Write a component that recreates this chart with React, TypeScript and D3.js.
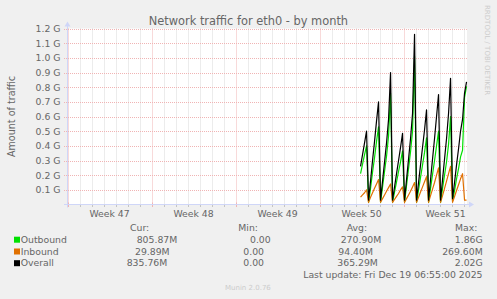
import React from "react";
import * as d3 from "d3";

// ---------- data ----------
const TITLE = "Network traffic for eth0 - by month";
const Y_AXIS_TITLE = "Amount of traffic";
const Y_TICKS = [0.1e9, 0.2e9, 0.3e9, 0.4e9, 0.5e9, 0.6e9, 0.7e9, 0.8e9, 0.9e9, 1.0e9, 1.1e9, 1.2e9];
const Y_TICK_LABELS = ["0.1 G", "0.2 G", "0.3 G", "0.4 G", "0.5 G", "0.6 G", "0.7 G", "0.8 G", "0.9 G", "1.0 G", "1.1 G", "1.2 G"];
const WEEK_LABELS = ["Week 47", "Week 48", "Week 49", "Week 50", "Week 51"];
const WEEK_STARTS = [
  new Date(2025, 10, 16), new Date(2025, 10, 23), new Date(2025, 10, 30),
  new Date(2025, 11, 7), new Date(2025, 11, 14),
];
const END_TIME = new Date(2025, 11, 19, 6, 55);
const DATA_START = new Date(2025, 11, 10, 10, 0); // 4-hour samples

// values in G (1e9)
const OUTBOUND = [
  0.21, 0.275, 0.34, 0.40,
  0.015, 0.11, 0.22, 0.32, 0.43, 0.53,
  0.015, 0.12, 0.225, 0.33, 0.465, 0.76,
  0.015, 0.085, 0.155, 0.225, 0.29, 0.365,
  0.015, 0.13, 0.245, 0.36, 0.50, 1.01,
  0.015, 0.10, 0.185, 0.27, 0.355, 0.455,
  0.015, 0.11, 0.205, 0.30, 0.40, 0.50,
  0.015, 0.11, 0.20, 0.29, 0.41, 0.60,
  0.025, 0.095, 0.175, 0.245, 0.325, 0.37,
  0.73, 0.806,
];
const INBOUND = [
  0.05, 0.065, 0.08, 0.10,
  0.015, 0.05, 0.08, 0.11, 0.14, 0.17,
  0.015, 0.04, 0.065, 0.09, 0.115, 0.14,
  0.015, 0.035, 0.055, 0.075, 0.10, 0.12,
  0.015, 0.04, 0.065, 0.09, 0.12, 0.15,
  0.015, 0.05, 0.085, 0.12, 0.155, 0.19,
  0.015, 0.06, 0.105, 0.15, 0.20, 0.25,
  0.015, 0.06, 0.11, 0.16, 0.21, 0.26,
  0.015, 0.055, 0.095, 0.135, 0.175, 0.21,
  0.03, 0.0299,
];
const OVERALL = [
  0.26, 0.34, 0.42, 0.50,
  0.03, 0.16, 0.30, 0.43, 0.57, 0.70,
  0.03, 0.16, 0.29, 0.42, 0.58, 0.90,
  0.03, 0.12, 0.21, 0.30, 0.39, 0.485,
  0.03, 0.17, 0.31, 0.45, 0.62, 1.16,
  0.03, 0.15, 0.27, 0.39, 0.51, 0.645,
  0.03, 0.17, 0.31, 0.45, 0.60, 0.75,
  0.03, 0.17, 0.31, 0.45, 0.62, 0.86,
  0.04, 0.15, 0.27, 0.38, 0.50, 0.58,
  0.76, 0.836,
];

const SERIES_NAMES = ["Outbound", "Inbound", "Overall"];
const CUR = ["805.87M", "29.89M", "835.76M"];
const MIN = ["0.00", "0.00", "0.00"];
const AVG = ["270.90M", "94.40M", "365.29M"];
const MAX = ["1.86G", "269.60M", "2.02G"];
const LAST_UPDATE = "Last update: Fri Dec 19 06:55:00 2025";
const VERSION = "Munin 2.0.76";
const WATERMARK = "RRDTOOL / TOBI OETIKER";

// ---------- style ----------
const COLORS = ["#00E000", "#E07000", "#000000"];
const FONT = "'DejaVu Sans', sans-serif";
const TXT = "#666666";
const AXIS = "#CFD6F8";
const MGRID = "#F0B4B4";
const GRID = "#D8D8D8";

const W = 497, H = 299;
const L = 67, R = 467, T = 28.5, B = 204.5;

export default function App() {
  const start = new Date(END_TIME.getTime() - 400 * 7200 * 1000);
  const x = d3.scaleTime().domain([start, END_TIME]).range([L, R]);
  const y = d3.scaleLinear().domain([0, 1.2e9]).range([B, T]);

  const times = OUTBOUND.map((_, i) => d3.timeHour.offset(DATA_START, 4 * i));
  const series = [OUTBOUND, INBOUND, OVERALL];
  const line = d3
    .line<number>()
    .x((_, i) => x(times[i]))
    .y((v) => y(v * 1e9));

  const days = d3.timeDay.range(d3.timeDay.ceil(start), END_TIME);
  const gridDays = days.filter((d) => d.getDay() !== 0);
  const sundays = days.filter((d) => d.getDay() === 0);

  const fs = 9.3;
  const curX = [136.7, 135, 126.7];
  const minX = [250, 243.3, 243.3];
  const avgX = [340.7, 338.3, 337.3];
  const maxR = 482.7;
  const rowY = [242.7, 254.5, 266.2];

  return (
    <svg
      width={W}
      height={H}
      style={{ position: "absolute", left: 0, top: 0, display: "block" }}
      fontFamily={FONT}
    >
      <rect x={0} y={0} width={W} height={H} fill="#F0F0F0" />
      <rect x={L} y={T} width={R - L} height={B - T} fill="#FFFFFF" />

      {/* minor vertical grid (days) */}
      {gridDays.map((d, i) => (
        <line key={"gd" + i} x1={Math.round(x(d)) + 0.5} x2={Math.round(x(d)) + 0.5} y1={T} y2={B}
          stroke={GRID} strokeWidth={1} strokeDasharray="1,1" />
      ))}
      {/* major vertical grid (weeks) */}
      {sundays.map((d, i) => (
        <line key={"gw" + i} x1={Math.round(x(d)) + 0.5} x2={Math.round(x(d)) + 0.5} y1={T} y2={B}
          stroke={MGRID} strokeWidth={1} strokeDasharray="1,1" />
      ))}
      {/* horizontal major grid */}
      {Y_TICKS.map((v, i) => (
        <line key={"gh" + i} x1={L - 3} x2={R} y1={Math.round(y(v)) + 0.5} y2={Math.round(y(v)) + 0.5}
          stroke={MGRID} strokeWidth={1} strokeDasharray="1,1" />
      ))}

      {/* x tick marks */}
      {gridDays.map((d, i) => (
        <line key={"td" + i} x1={Math.round(x(d)) + 0.5} x2={Math.round(x(d)) + 0.5} y1={B} y2={B + 2.5}
          stroke="#C4C4C4" strokeWidth={1} />
      ))}
      {sundays.map((d, i) => (
        <line key={"tw" + i} x1={Math.round(x(d)) + 0.5} x2={Math.round(x(d)) + 0.5} y1={B - 2} y2={B + 2.5}
          stroke={MGRID} strokeWidth={1} />
      ))}

      {/* axes */}
      <line x1={L + 0.5} x2={L + 0.5} y1={B + 3} y2={T - 4} stroke={AXIS} strokeWidth={1} />
      <path d={`M${L - 2.5},${T - 2} L${L + 0.5},${T - 7} L${L + 3.5},${T - 2} Z`} fill={AXIS} />
      <line x1={L - 3} x2={R + 3} y1={B} y2={B} stroke={AXIS} strokeWidth={1} />
      <path d={`M${R + 2},${B - 3} L${R + 7},${B} L${R + 2},${B + 3} Z`} fill={AXIS} />

      {/* series */}
      {series.map((s, k) => (
        <path key={"s" + k} d={line(s) || ""} fill="none" stroke={COLORS[k]} strokeWidth={1.2}
          strokeLinejoin="round" />
      ))}

      {/* title */}
      <text x={248.4} y={25} textAnchor="middle" fontSize={11.4} fill={TXT}>{TITLE}</text>

      {/* y tick labels */}
      {Y_TICKS.map((v, i) => (
        <text key={"yl" + i} x={60.5} y={y(v) + 3.4} textAnchor="end" fontSize={fs} fill={TXT}>
          {Y_TICK_LABELS[i]}
        </text>
      ))}
      <text transform={`translate(15,${(T + B) / 2}) rotate(-90)`} textAnchor="middle" fontSize={fs + 0.3} fill={TXT}>
        {Y_AXIS_TITLE}
      </text>

      {/* week labels */}
      {WEEK_STARTS.map((d, i) => (
        <text key={"wl" + i} x={x(d3.timeHour.offset(d, 84))} y={216.5} textAnchor="middle" fontSize={fs} fill={TXT}>
          {WEEK_LABELS[i]}
        </text>
      ))}

      {/* legend header */}
      <text x={130} y={230.7} fontSize={fs} fill={TXT}>Cur:</text>
      <text x={238.3} y={230.7} fontSize={fs} fill={TXT}>Min:</text>
      <text x={346.7} y={230.7} fontSize={fs} fill={TXT}>Avg:</text>
      <text x={455} y={230.7} fontSize={fs} fill={TXT}>Max:</text>

      {SERIES_NAMES.map((n, i) => (
        <g key={"lg" + i}>
          <rect x={14} y={rowY[i] - 6} width={6} height={6} fill={COLORS[i]} />
          <text x={20.7} y={rowY[i]} fontSize={fs} fill={TXT}>{n}</text>
          <text x={curX[i]} y={rowY[i]} fontSize={fs} fill={TXT}>{CUR[i]}</text>
          <text x={minX[i]} y={rowY[i]} fontSize={fs} fill={TXT}>{MIN[i]}</text>
          <text x={avgX[i]} y={rowY[i]} fontSize={fs} fill={TXT}>{AVG[i]}</text>
          <text x={maxR} y={rowY[i]} textAnchor="end" fontSize={fs} fill={TXT}>{MAX[i]}</text>
        </g>
      ))}

      <text x={482.5} y={277.8} textAnchor="end" fontSize={fs} fill={TXT}>{LAST_UPDATE}</text>
      <text x={225} y={290} fontSize={7} fill="#CCCCCC">{VERSION}</text>
      <text transform="translate(485,5) rotate(90)" fontSize={7} fill="#CCCCCC">{WATERMARK}</text>
    </svg>
  );
}
